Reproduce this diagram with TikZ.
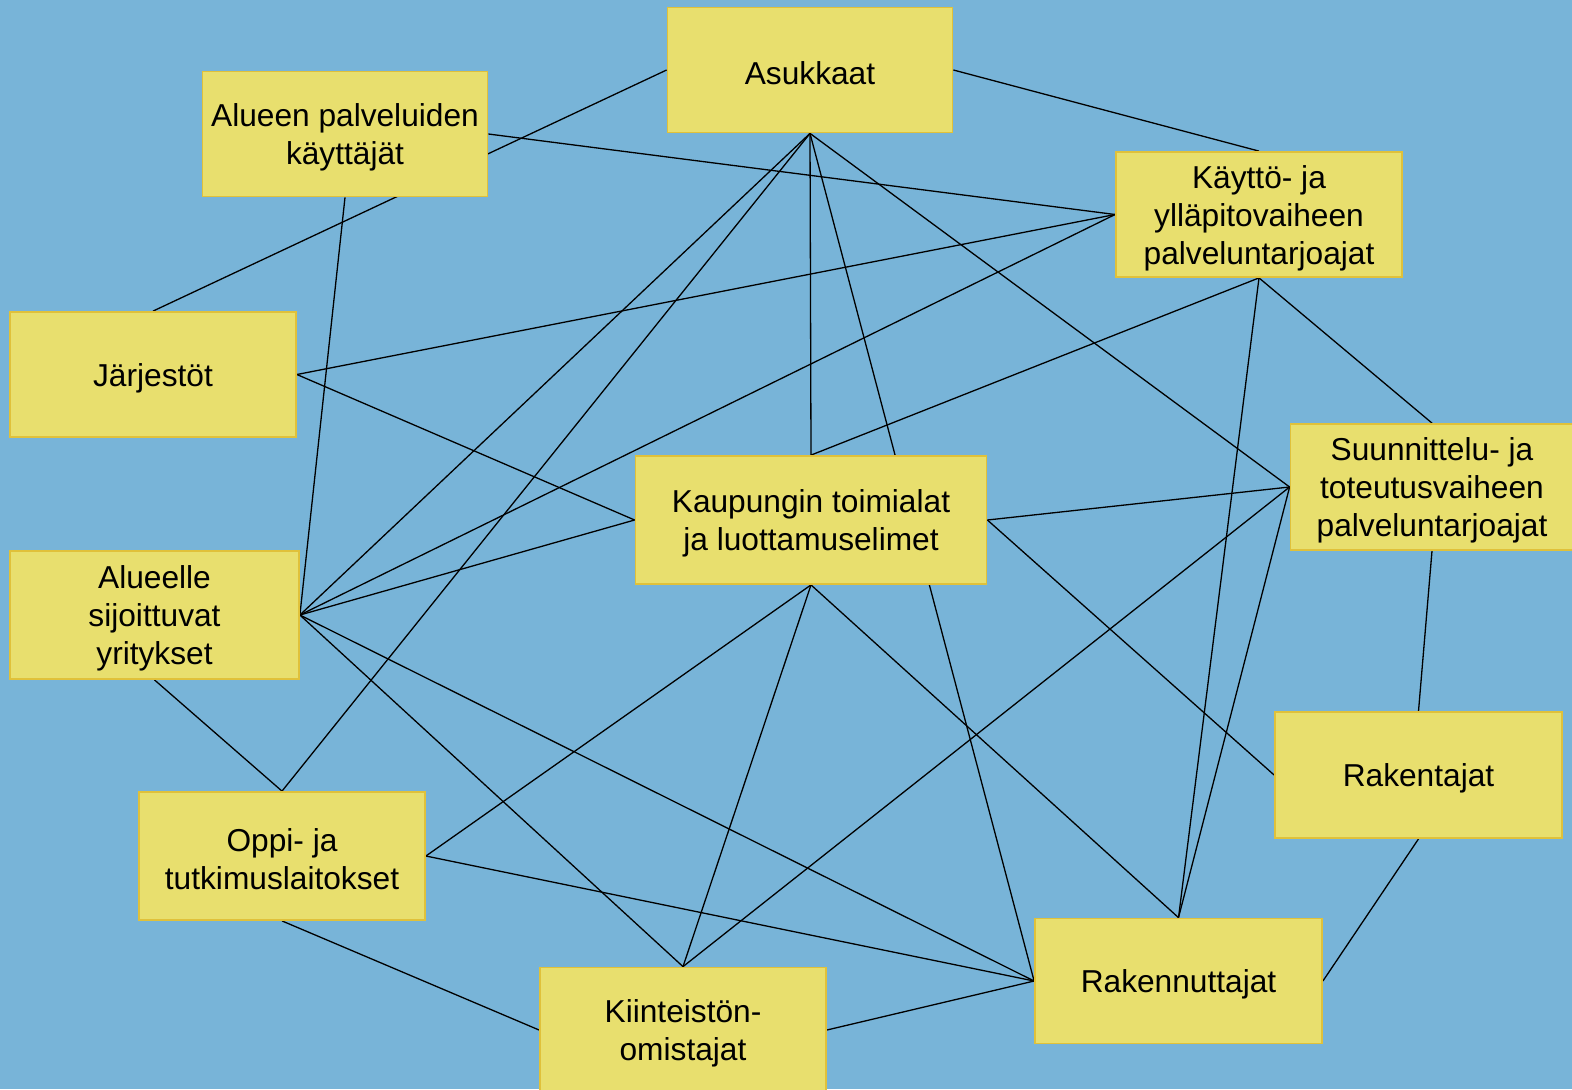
\documentclass[tikz,border=0pt]{standalone}
\usepackage{fontspec}
\setmainfont{Liberation Sans}
\definecolor{bgblue}{HTML}{78B4D8}
\definecolor{boxfill}{HTML}{E8DF6E}
\definecolor{boxline}{HTML}{E0C13A}
\pgfdeclarelayer{bg}
\pgfdeclarelayer{edges}
\pgfsetlayers{bg,edges,main}
\tikzset{
  actor/.style={draw=boxline, fill=boxfill, line width=1.8bp, minimum width=285bp,
    minimum height=125bp, inner sep=0pt,
    label={[align=center, inner sep=0pt, yshift=-3.5bp,
      font=\fontsize{31.8}{38}\selectfont]center:#1}},
  link/.style={draw=black, line width=1.3bp}
}
\begin{document}
\begin{tikzpicture}[x=1bp,y=-1bp]
\useasboundingbox (0,0) rectangle (1572,1089);
\begin{pgfonlayer}{bg}
\fill[bgblue] (0,0) rectangle (1572,1089);
\end{pgfonlayer}

\node[actor={Asukkaat}] (asu) at (810,70) {};
\node[actor={Alueen palveluiden\\käyttäjät}] (alu) at (345,134) {};
\node[actor={Käyttö- ja\\ylläpitovaiheen\\palveluntarjoajat}, minimum width=286bp] (kay) at (1259,214.5) {};
\node[actor={Järjestöt}, minimum width=286bp] (jar) at (153,374.5) {};
\node[actor={Suunnittelu- ja\\toteutusvaiheen\\palveluntarjoajat}, minimum width=283bp, minimum height=126bp] (suu) at (1432,487) {};
\node[actor={Kaupungin toimialat\\ja luottamuselimet}, minimum width=351bp, minimum height=128bp] (kau) at (811,520) {};
\node[actor={Alueelle\\sijoittuvat\\yritykset}, minimum width=289bp, minimum height=128bp] (ali) at (154.5,615) {};
\node[actor={Rakentajat}, minimum width=287bp, minimum height=126bp] (rkt) at (1418.5,775) {};
\node[actor={Oppi- ja\\tutkimuslaitokset}, minimum width=286bp, minimum height=128bp] (opp) at (282,856) {};
\node[actor={Rakennuttajat}, minimum width=287bp] (rkn) at (1178.5,981) {};
\node[actor={Kiinteistön-\\omistajat}, minimum width=286bp] (kii) at (683,1030) {};

\begin{pgfonlayer}{edges}
\draw[link] (asu.west) -- (jar.north);
\draw[link] (asu.east) -- (kay.north);
\draw[link] (alu.east) -- (kay.west);
\draw[link] (alu.south) -- (ali.east);
\draw[link] (asu.south) -- (ali.east);
\draw[link] (asu.south) -- (opp.north);
\draw[link] (asu.south) -- (kau.north);
\draw[link] (asu.south) -- (rkn.west);
\draw[link] (asu.south) -- (suu.west);
\draw[link] (kay.west) -- (jar.east);
\draw[link] (kay.west) -- (ali.east);
\draw[link] (kay.south) -- (kau.north);
\draw[link] (kay.south) -- (suu.north);
\draw[link] (kay.south) -- (rkn.north);
\draw[link] (jar.east) -- (kau.west);
\draw[link] (kau.west) -- (ali.east);
\draw[link] (kau.east) -- (suu.west);
\draw[link] (kau.east) -- (rkt.west);
\draw[link] (kau.south) -- (opp.east);
\draw[link] (kau.south) -- (kii.north);
\draw[link] (kau.south) -- (rkn.north);
\draw[link] (suu.west) -- (kii.north);
\draw[link] (suu.west) -- (rkn.north);
\draw[link] (suu.south) -- (rkt.north);
\draw[link] (rkt.south) -- (rkn.east);
\draw[link] (ali.east) -- (kii.north);
\draw[link] (ali.east) -- (rkn.west);
\draw[link] (ali.south) -- (opp.north);
\draw[link] (opp.east) -- (rkn.west);
\draw[link] (opp.south) -- (kii.west);
\draw[link] (kii.east) -- (rkn.west);
\end{pgfonlayer}
\end{tikzpicture}
\end{document}
